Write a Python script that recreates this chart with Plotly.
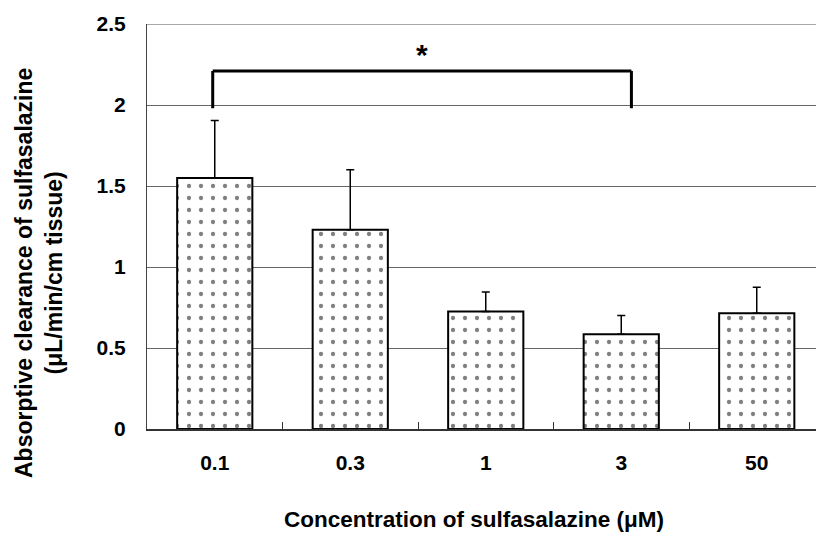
import plotly.graph_objects as go

categories = ["0.1", "0.3", "1", "3", "50"]
means = [1.55, 1.23, 0.725, 0.585, 0.715]
errors = [0.355, 0.37, 0.12, 0.115, 0.16]
y_ticks = [0, 0.5, 1, 1.5, 2, 2.5]
y_tick_labels = ["0", "0.5", "1", "1.5", "2", "2.5"]
sig_from, sig_to = 0, 3
sig_label = "*"

FONT = "Liberation Sans, Arial, sans-serif"

fig = go.Figure()
fig.add_trace(go.Bar(
    x=categories, y=means, width=0.555,
    marker=dict(color="white",
                line=dict(color="black", width=2),
                pattern=dict(shape=".", fgcolor="black", bgcolor="white",
                             size=12, solidity=0.1)),
    error_y=dict(type="data", symmetric=False, array=errors,
                 arrayminus=[0] * len(errors),
                 color="black", thickness=1.5, width=4),
    showlegend=False,
))

L, R, T, B = 147, 0, 24, 111
W, H = 816, 540
cat_px = 135.5
x_end = -0.5 + (W - L - R) / cat_px

# significance bracket
bracket_top = 2.21
bracket_bottom = 1.98
xl, xr = sig_from - 0.015, sig_to + 0.075
shapes = [
    dict(type="line", xref="x", yref="y", x0=xl, x1=xl, y0=bracket_bottom, y1=bracket_top,
         line=dict(color="black", width=3)),
    dict(type="line", xref="x", yref="y", x0=xl, x1=xr, y0=bracket_top, y1=bracket_top,
         line=dict(color="black", width=3)),
    dict(type="line", xref="x", yref="y", x0=xr, x1=xr, y0=bracket_bottom, y1=bracket_top,
         line=dict(color="black", width=3)),
    # top border
    dict(type="line", xref="paper", yref="y", x0=0, x1=1, y0=2.5, y1=2.5,
         line=dict(color="#555", width=1)),
]

annotations = [
    dict(x=1.53, y=2.31, xref="x", yref="y", text="<b>" + sig_label + "</b>", showarrow=False,
         font=dict(family=FONT, size=30, color="black"), xanchor="center", yanchor="middle"),
    dict(x=(39 - L) / (W - L - R), y=(429 - 273) / (H - T - B), xref="paper", yref="paper",
         text="<b>Absorptive clearance of sulfasalazine<br>(μL/min/cm tissue)</b>",
         textangle=-90, showarrow=False, xanchor="center", yanchor="middle",
         font=dict(family=FONT, size=23, color="black")),
    dict(x=(474 - L) / (W - L - R), y=(429 - 519) / (H - T - B), xref="paper", yref="paper",
         text="<b>Concentration of sulfasalazine (μM)</b>", showarrow=False,
         font=dict(family=FONT, size=22.5, color="black"), xanchor="center", yanchor="middle"),
]

fig.update_layout(
    width=W, height=H,
    margin=dict(l=L, r=R, t=T, b=B, pad=0),
    paper_bgcolor="white", plot_bgcolor="white",
    shapes=shapes, annotations=annotations,
    font=dict(family=FONT, color="black"),
)
fig.update_xaxes(
    type="category", range=[-0.5, x_end],
    showline=True, linecolor="#333", linewidth=1.5,
    ticks="inside", tickson="boundaries", ticklen=7, tickcolor="#333", tickwidth=1,
    showgrid=False, zeroline=False,
    tickfont=dict(family=FONT, size=21, color="black", weight="bold"),
    ticklabelstandoff=14,
)
fig.update_yaxes(
    range=[0, 2.5], tickvals=y_ticks, ticktext=y_tick_labels,
    showline=True, linecolor="#444", linewidth=1,
    showgrid=True, gridcolor="#666", gridwidth=1,
    zeroline=False, ticks="",
    tickfont=dict(family=FONT, size=21, color="black", weight="bold"),
    ticklabelstandoff=16,
)

fig.write_html("out.html")
